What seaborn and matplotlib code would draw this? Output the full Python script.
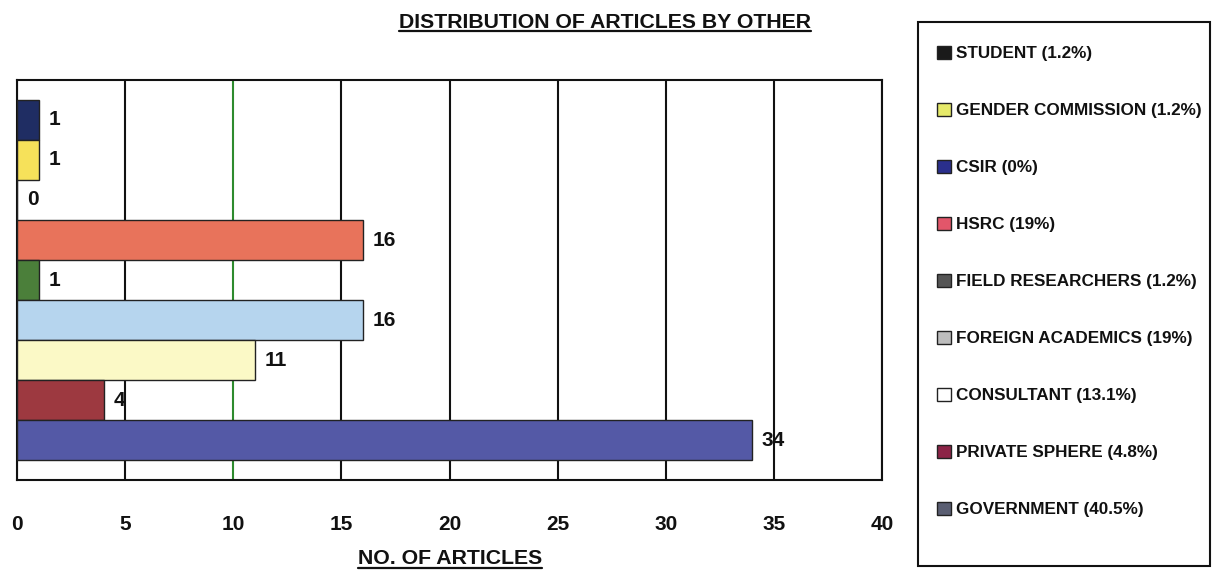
import matplotlib
matplotlib.use("Agg")
import matplotlib.pyplot as plt
from matplotlib.patches import Patch, Rectangle
from matplotlib.lines import Line2D
import seaborn as sns
import pandas as pd

categories = ["STUDENT", "GENDER COMMISSION", "CSIR", "HSRC", "FIELD RESEARCHERS",
              "FOREIGN ACADEMICS", "CONSULTANT", "PRIVATE SPHERE", "GOVERNMENT"]
articles = [1, 1, 0, 16, 1, 16, 11, 4, 34]
shares = ["1.2%", "1.2%", "0%", "19%", "1.2%", "19%", "13.1%", "4.8%", "40.5%"]
bar_colors = ["#1f2d63", "#f6e15a", "#2b3590", "#e8735b", "#4b7f3a",
              "#b6d5ee", "#fbf9c6", "#9d3940", "#5459a6"]
legend_colors = ["#1a1a1a", "#e6ea6a", "#2a2f8c", "#e2566a", "#555555",
                 "#bdbdbd", "#ffffff", "#8c2447", "#5a5e72"]
x_ticks = [0, 5, 10, 15, 20, 25, 30, 35, 40]

sns.set_theme(style="white")
plt.rcParams["font.family"] = ["Liberation Sans", "DejaVu Sans"]
plt.rcParams["font.weight"] = "bold"
plt.rcParams["text.color"] = "#111111"
plt.rcParams["xtick.color"] = "#111111"

df = pd.DataFrame({"source": categories, "articles": articles})

fig = plt.figure(figsize=(12.24, 5.77), dpi=100)
ax = fig.add_axes([17 / 1224, 1 - 480 / 577, (882 - 17) / 1224, 400 / 577])

sns.barplot(data=df, y="source", x="articles", hue="source", order=categories,
            hue_order=categories, palette=bar_colors, saturation=1, dodge=False,
            width=1.0, edgecolor="#222222", linewidth=1.0, legend=False, ax=ax,
            zorder=3)

for cont in ax.containers:
    ax.bar_label(cont, padding=7, fontsize=15, fontweight="bold", color="#111111")

ax.set_xlim(0, 40)
ax.set_ylim(9, -1)
ax.set_xticks(x_ticks)
ax.set_yticks([])
ax.set_xlabel("")
ax.set_ylabel("")
ax.tick_params(axis="x", direction="out", length=8, width=1.5, color="#111111",
               pad=17, labelsize=15)
for lab in ax.get_xticklabels():
    lab.set_fontweight("bold")
ax.set_axisbelow(True)
ax.grid(axis="x", color="#111111", linewidth=1.5)
ax.grid(axis="y", visible=False)
ax.xaxis.get_gridlines()[2].set_color("#2e8b2e")
for side, sp in ax.spines.items():
    sp.set_visible(True)
    sp.set_color("#111111")
    sp.set_linewidth(1.5)

# legend panel: frame drawn separately, entries listed inside it
fig.add_artist(Rectangle((918 / 1224, 1 - 566 / 577), (1210 - 918) / 1224, 544 / 577,
                         transform=fig.transFigure, facecolor="white",
                         edgecolor="#111111", linewidth=1.5))
handles = [Patch(facecolor=c, edgecolor="#222222", linewidth=1.0) for c in legend_colors]
labels = [f"{c} ({s})" for c, s in zip(categories, shares)]
leg = fig.legend(handles, labels, loc="upper left",
                 bbox_to_anchor=(937 / 1224, 1 - 46 / 577), frameon=False,
                 prop={"weight": "bold", "size": 12.3}, labelspacing=2.43,
                 handlelength=0.8, handleheight=0.8, handletextpad=0.3,
                 borderpad=0, borderaxespad=0)

title = fig.text(605 / 1224, 1 - 22 / 577, "DISTRIBUTION OF ARTICLES BY OTHER",
                 ha="center", va="center", fontsize=15.3, fontweight="bold")
xlab = fig.text(450 / 1224, 1 - 559 / 577, "NO. OF ARTICLES",
                ha="center", va="center", fontsize=15.3, fontweight="bold")

# underline the two headings
fig.canvas.draw()
renderer = fig.canvas.get_renderer()
inv = fig.transFigure.inverted()
for t in (title, xlab):
    bb = t.get_window_extent(renderer)
    (x0, y0) = inv.transform((bb.x0, bb.y0 + 1))
    (x1, _) = inv.transform((bb.x1, bb.y0 + 1))
    fig.add_artist(Line2D([x0, x1], [y0, y0], transform=fig.transFigure,
                          color="#111111", linewidth=1.6))

fig.savefig("out.png", dpi=100, facecolor="white")
